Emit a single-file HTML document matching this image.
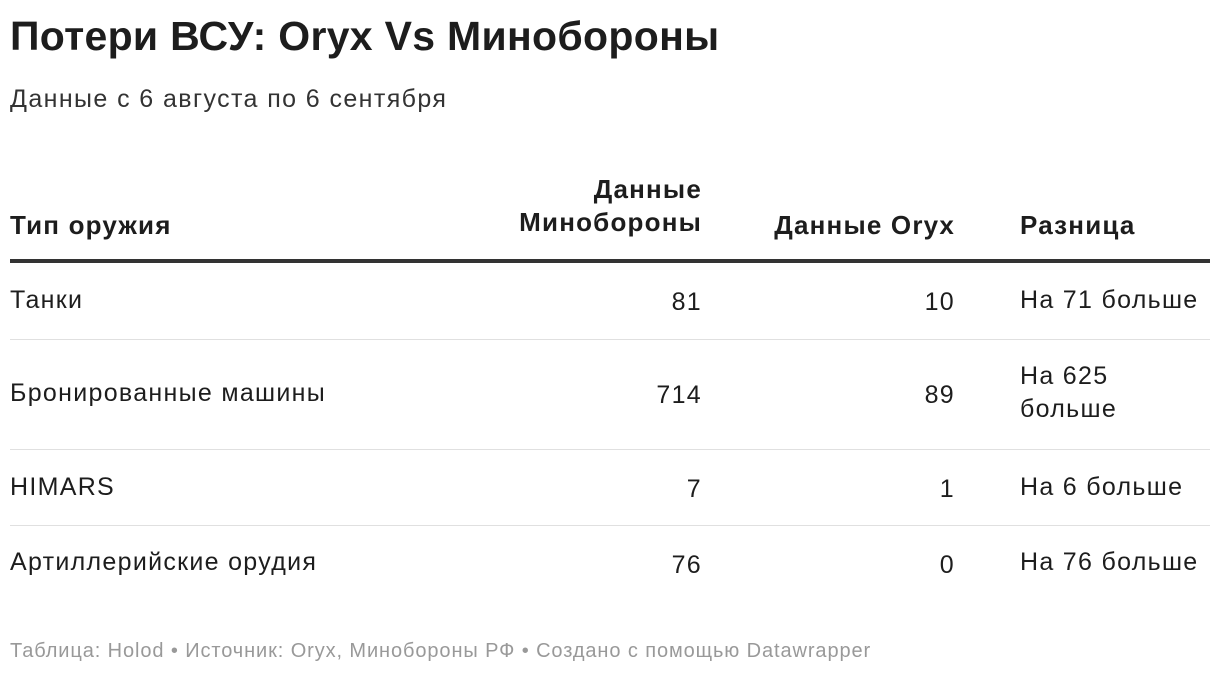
<!DOCTYPE html>
<html><head><meta charset="utf-8"><style>
body{margin:0;width:1220px;height:676px;background:#fff;font-family:"Liberation Sans",Arial,sans-serif;color:#1d1d1d;position:relative;overflow:hidden}
.a{position:absolute;white-space:nowrap}
.title{left:10px;top:13px;font-size:41px;font-weight:bold;letter-spacing:0.3px}
.sub{left:10px;top:85px;font-size:25px;color:#333;letter-spacing:1.4px}
.h{font-size:26px;font-weight:bold;letter-spacing:1.2px;line-height:33px}
.c{font-size:25px;line-height:33px;letter-spacing:1.3px}
.r{text-align:right}
.line{position:absolute;left:10px;width:1200px}
.foot{left:10px;top:640px;font-size:20px;color:#999;letter-spacing:0.9px}
</style></head><body>
<div class="a title">Потери ВСУ: Oryx Vs Минобороны</div>
<div class="a sub">Данные с 6 августа по 6 сентября</div>

<div class="a h" style="left:10px;top:209px">Тип оружия</div>
<div class="a h r" style="right:518px;top:173px">Данные<br>Минобороны</div>
<div class="a h r" style="right:265px;top:209px">Данные Oryx</div>
<div class="a h" style="left:1020px;top:209px">Разница</div>
<div class="line" style="top:259px;height:4px;background:#333"></div>

<div>
<div class="a c" style="left:10px;top:284px">Танки</div>
<div class="a c r" style="right:518px;top:286px">81</div>
<div class="a c r" style="right:265px;top:286px">10</div>
<div class="a c" style="left:1020px;top:284px">На 71 больше</div>
</div>
<div class="line" style="top:339px;height:1px;background:#e0e0e0"></div>

<div>
<div class="a c" style="left:10px;top:377px">Бронированные машины</div>
<div class="a c r" style="right:518px;top:379px">714</div>
<div class="a c r" style="right:265px;top:379px">89</div>
<div class="a c" style="left:1020px;top:360px">На 625<br>больше</div>
</div>
<div class="line" style="top:449px;height:1px;background:#e0e0e0"></div>

<div>
<div class="a c" style="left:10px;top:471px">HIMARS</div>
<div class="a c r" style="right:518px;top:473px">7</div>
<div class="a c r" style="right:265px;top:473px">1</div>
<div class="a c" style="left:1020px;top:471px">На 6 больше</div>
</div>
<div class="line" style="top:525px;height:1px;background:#e0e0e0"></div>

<div>
<div class="a c" style="left:10px;top:546px">Артиллерийские орудия</div>
<div class="a c r" style="right:518px;top:549px">76</div>
<div class="a c r" style="right:265px;top:549px">0</div>
<div class="a c" style="left:1020px;top:546px">На 76 больше</div>
</div>

<div class="a foot">Таблица: Holod • Источник: Oryx, Минобороны РФ • Создано с помощью Datawrapper</div>
</body></html>
